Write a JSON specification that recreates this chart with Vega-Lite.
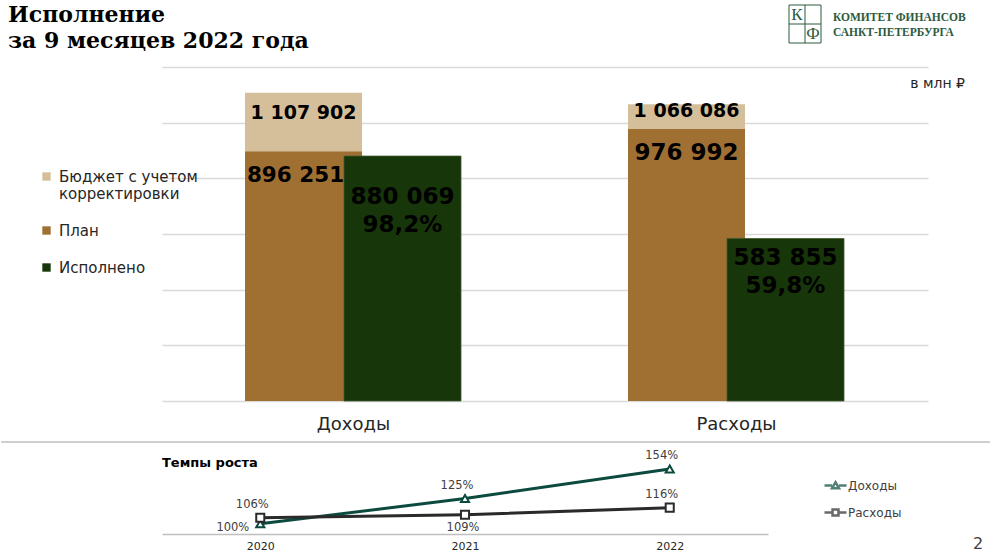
{
  "$schema": "https://vega.github.io/schema/vega-lite/v6.json",
  "padding": {"left": 0, "top": 4, "right": 0, "bottom": 0},
  "background": "white",
  "config": {
    "locale": {"number": {"decimal": ",", "thousands": " ", "grouping": [3], "currency": ["", " ₽"]}},
    "view": {"stroke": null},
    "font": "DejaVu Sans"
  },
  "datasets": {
    "bars": [
      {"cat": "Доходы", "series": "Бюджет с учетом корректировки", "value": 1107902},
      {"cat": "Доходы", "series": "План", "value": 896251},
      {"cat": "Доходы", "series": "Исполнено", "value": 880069, "pct": 0.982},
      {"cat": "Расходы", "series": "Бюджет с учетом корректировки", "value": 1066086},
      {"cat": "Расходы", "series": "План", "value": 976992},
      {"cat": "Расходы", "series": "Исполнено", "value": 583855, "pct": 0.598}
    ],
    "growth": [
      {"series": "Доходы", "year": "2020", "rate": 1.00},
      {"series": "Доходы", "year": "2021", "rate": 1.25},
      {"series": "Доходы", "year": "2022", "rate": 1.54},
      {"series": "Расходы", "year": "2020", "rate": 1.06},
      {"series": "Расходы", "year": "2021", "rate": 1.09},
      {"series": "Расходы", "year": "2022", "rate": 1.16}
    ],
    "one": [{"k": 1}]
  },
  "spacing": 8,
  "vconcat": [
    {
      "width": 766,
      "height": 334,
      "layer": [
        {
          "data": {"name": "bars"},
          "transform": [{"filter": "datum.series == 'Бюджет с учетом корректировки'"}],
          "mark": {"type": "bar", "width": 117, "xOffset": -50},
          "encoding": {
            "x": {"field": "cat", "type": "nominal", "sort": ["Доходы", "Расходы"], "scale": {"paddingInner": 0, "paddingOuter": 0},
              "axis": {"title": null, "labelAngle": 0, "labelFontSize": 18, "labelColor": "#262626", "labelFont": "DejaVu Sans", "ticks": false, "domain": false, "labelPadding": 14}},
            "y": {"field": "value", "type": "quantitative", "scale": {"domain": [0, 1200000]},
              "axis": {"title": null, "labels": false, "ticks": false, "domain": false, "grid": true, "gridColor": "#d9d9d9", "gridWidth": 1.5, "values": [0, 200000, 400000, 600000, 800000, 1000000, 1200000]}},
            "color": {"field": "series", "type": "nominal",
              "scale": {"domain": ["Бюджет с учетом корректировки", "План", "Исполнено"], "range": ["#d5bf9a", "#a07033", "#17360a"]},
              "legend": {"title": null, "orient": "none", "legendX": -123, "legendY": 102, "symbolType": "square", "symbolSize": 70, "symbolStrokeWidth": 0,
                "labelFontSize": 15, "labelFont": "DejaVu Sans", "labelColor": "#262626", "labelOffset": 5, "rowPadding": 21, "labelLimit": 300,
                "labelExpr": "datum.label == 'Бюджет с учетом корректировки' ? ['Бюджет с учетом', 'корректировки'] : datum.label"}}
          }
        },
        {
          "data": {"name": "bars"},
          "transform": [{"filter": "datum.series == 'Бюджет с учетом корректировки' && datum.cat == 'Доходы'"}],
          "mark": {"type": "text", "xOffset": -50, "dy": 20, "baseline": "middle", "fontSize": 19, "fontWeight": "bold", "font": "DejaVu Sans", "color": "#000000"},
          "encoding": {
            "x": {"field": "cat", "type": "nominal", "sort": ["Доходы", "Расходы"]},
            "y": {"field": "value", "type": "quantitative"},
            "text": {"field": "value", "type": "quantitative", "format": ",d"}
          }
        },
        {
          "data": {"name": "bars"},
          "transform": [{"filter": "datum.series == 'Бюджет с учетом корректировки' && datum.cat == 'Расходы'"}],
          "mark": {"type": "text", "xOffset": -50, "dy": 7, "baseline": "middle", "fontSize": 19, "fontWeight": "bold", "font": "DejaVu Sans", "color": "#000000"},
          "encoding": {
            "x": {"field": "cat", "type": "nominal", "sort": ["Доходы", "Расходы"]},
            "y": {"field": "value", "type": "quantitative"},
            "text": {"field": "value", "type": "quantitative", "format": ",d"}
          }
        },
        {
          "data": {"name": "bars"},
          "transform": [{"filter": "datum.series == 'План'"}],
          "mark": {"type": "bar", "width": 117, "xOffset": -50},
          "encoding": {
            "x": {"field": "cat", "type": "nominal", "sort": ["Доходы", "Расходы"]},
            "y": {"field": "value", "type": "quantitative"},
            "color": {"field": "series", "type": "nominal"}
          }
        },
        {
          "data": {"name": "bars"},
          "transform": [{"filter": "datum.series == 'План' && datum.cat == 'Доходы'"}],
          "mark": {"type": "text", "xOffset": -50, "dx": -8, "dy": 24, "baseline": "middle", "fontSize": 21.5, "fontWeight": "bold", "font": "DejaVu Sans", "color": "#000000"},
          "encoding": {
            "x": {"field": "cat", "type": "nominal", "sort": ["Доходы", "Расходы"]},
            "y": {"field": "value", "type": "quantitative"},
            "text": {"field": "value", "type": "quantitative", "format": ",d"}
          }
        },
        {
          "data": {"name": "bars"},
          "transform": [{"filter": "datum.series == 'План' && datum.cat == 'Расходы'"}],
          "mark": {"type": "text", "xOffset": -50, "dy": 24, "baseline": "middle", "fontSize": 23, "fontWeight": "bold", "font": "DejaVu Sans", "color": "#000000"},
          "encoding": {
            "x": {"field": "cat", "type": "nominal", "sort": ["Доходы", "Расходы"]},
            "y": {"field": "value", "type": "quantitative"},
            "text": {"field": "value", "type": "quantitative", "format": ",d"}
          }
        },
        {
          "data": {"name": "bars"},
          "transform": [{"filter": "datum.series == 'Исполнено'"}],
          "mark": {"type": "bar", "width": 117, "xOffset": 49, "stroke": "#3f5a30", "strokeWidth": 0.8},
          "encoding": {
            "x": {"field": "cat", "type": "nominal", "sort": ["Доходы", "Расходы"]},
            "y": {"field": "value", "type": "quantitative"},
            "color": {"field": "series", "type": "nominal"}
          }
        },
        {
          "data": {"name": "bars"},
          "transform": [{"filter": "datum.series == 'Исполнено' && datum.cat == 'Доходы'"}],
          "mark": {"type": "text", "xOffset": 49, "dy": 41, "baseline": "middle", "fontSize": 23, "fontWeight": "bold", "font": "DejaVu Sans", "color": "#000000"},
          "encoding": {
            "x": {"field": "cat", "type": "nominal", "sort": ["Доходы", "Расходы"]},
            "y": {"field": "value", "type": "quantitative"},
            "text": {"field": "value", "type": "quantitative", "format": ",d"}
          }
        },
        {
          "data": {"name": "bars"},
          "transform": [{"filter": "datum.series == 'Исполнено' && datum.cat == 'Доходы'"}],
          "mark": {"type": "text", "xOffset": 49, "dy": 69, "baseline": "middle", "fontSize": 23, "fontWeight": "bold", "font": "DejaVu Sans", "color": "#000000"},
          "encoding": {
            "x": {"field": "cat", "type": "nominal", "sort": ["Доходы", "Расходы"]},
            "y": {"field": "value", "type": "quantitative"},
            "text": {"field": "pct", "type": "quantitative", "format": ".1%"}
          }
        },
        {
          "data": {"name": "bars"},
          "transform": [{"filter": "datum.series == 'Исполнено' && datum.cat == 'Расходы'"}],
          "mark": {"type": "text", "xOffset": 49, "dy": 20, "baseline": "middle", "fontSize": 23, "fontWeight": "bold", "font": "DejaVu Sans", "color": "#000000"},
          "encoding": {
            "x": {"field": "cat", "type": "nominal", "sort": ["Доходы", "Расходы"]},
            "y": {"field": "value", "type": "quantitative"},
            "text": {"field": "value", "type": "quantitative", "format": ",d"}
          }
        },
        {
          "data": {"name": "bars"},
          "transform": [{"filter": "datum.series == 'Исполнено' && datum.cat == 'Расходы'"}],
          "mark": {"type": "text", "xOffset": 49, "dy": 48, "baseline": "middle", "fontSize": 23, "fontWeight": "bold", "font": "DejaVu Sans", "color": "#000000"},
          "encoding": {
            "x": {"field": "cat", "type": "nominal", "sort": ["Доходы", "Расходы"]},
            "y": {"field": "value", "type": "quantitative"},
            "text": {"field": "pct", "type": "quantitative", "format": ".1%"}
          }
        },
        {
          "data": {"name": "one"},
          "mark": {"type": "text", "text": ["Исполнение", "за 9 месяцев 2022 года"], "align": "left", "baseline": "alphabetic", "lineHeight": 26, "fontSize": 22, "fontWeight": "bold", "font": "DejaVu Serif", "color": "#000000"},
          "encoding": {"x": {"value": -154}, "y": {"value": -45}}
        },
        {
          "data": {"name": "one"},
          "mark": {"type": "rect", "fill": null, "fillOpacity": 0, "stroke": "#2d5a3d", "strokeWidth": 1},
          "encoding": {"x": {"value": 627}, "x2": {"value": 659}, "y": {"value": -62}, "y2": {"value": -24}}
        },
        {
          "data": {"name": "one"},
          "mark": {"type": "rule", "color": "#2d5a3d", "strokeWidth": 1},
          "encoding": {"x": {"value": 643}, "y": {"value": -62}, "y2": {"value": -24}}
        },
        {
          "data": {"name": "one"},
          "mark": {"type": "rule", "color": "#2d5a3d", "strokeWidth": 1},
          "encoding": {"x": {"value": 627}, "x2": {"value": 659}, "y": {"value": -43}}
        },
        {
          "data": {"name": "one"},
          "mark": {"type": "text", "text": "К", "align": "center", "baseline": "middle", "fontSize": 17, "font": "Liberation Serif", "color": "#2d5a3d"},
          "encoding": {"x": {"value": 635}, "y": {"value": -52}}
        },
        {
          "data": {"name": "one"},
          "mark": {"type": "text", "text": "Ф", "align": "center", "baseline": "middle", "fontSize": 17, "font": "Liberation Serif", "color": "#2d5a3d"},
          "encoding": {"x": {"value": 651}, "y": {"value": -33}}
        },
        {
          "data": {"name": "one"},
          "mark": {"type": "text", "text": ["КОМИТЕТ ФИНАНСОВ", "САНКТ-ПЕТЕРБУРГА"], "align": "left", "baseline": "middle", "lineHeight": 15, "fontSize": 11.5, "fontWeight": "bold", "font": "Liberation Serif", "color": "#2d5a3d"},
          "encoding": {"x": {"value": 671}, "y": {"value": -49}}
        },
        {
          "data": {"name": "one"},
          "mark": {"type": "text", "text": "в млн ₽", "align": "right", "baseline": "middle", "fontSize": 14, "font": "DejaVu Sans", "color": "#262626"},
          "encoding": {"x": {"value": 803}, "y": {"value": 17}}
        }
      ]
    },
    {
      "width": 606,
      "height": 71,
      "title": {"text": "Темпы роста", "anchor": "start", "frame": "group", "fontSize": 13, "fontWeight": "bold", "font": "DejaVu Sans", "color": "#000000", "offset": -6, "dy": 23},
      "layer": [
        {
          "data": {"name": "one"},
          "mark": {"type": "rule", "color": "#bfbfbf", "strokeWidth": 1.5},
          "encoding": {"x": {"value": -161}, "x2": {"value": 828}, "y": {"value": -21}}
        },
        {
          "data": {"name": "growth"},
          "mark": {"type": "line", "strokeWidth": 3},
          "encoding": {
            "x": {"field": "year", "type": "ordinal", "scale": {"type": "point", "padding": 0.48},
              "axis": {"title": null, "labelAngle": 0, "labelFontSize": 11, "labelColor": "#262626", "ticks": false, "domainColor": "#bfbfbf", "domainWidth": 1.5, "labelPadding": 6, "grid": false}},
            "y": {"field": "rate", "type": "quantitative", "scale": {"domain": [0.9, 1.6]}, "axis": null},
            "stroke": {"field": "series", "type": "nominal", "scale": {"domain": ["Доходы", "Расходы"], "range": ["#0b4a3e", "#2a2a2a"]}, "legend": null}
          }
        },
        {
          "data": {"name": "growth"},
          "mark": {"type": "point", "filled": false, "fill": "white", "strokeWidth": 2, "size": 65, "opacity": 1},
          "encoding": {
            "x": {"field": "year", "type": "ordinal"},
            "y": {"field": "rate", "type": "quantitative", "axis": null},
            "stroke": {"field": "series", "type": "nominal", "legend": null},
            "shape": {"field": "series", "type": "nominal", "scale": {"domain": ["Доходы", "Расходы"], "range": ["triangle-up", "square"]}, "legend": null}
          }
        },
        {
          "data": {"name": "growth"},
          "transform": [{"filter": "(datum.series == 'Доходы' && datum.year != '2020') || (datum.series == 'Расходы' && datum.year != '2021')"}],
          "mark": {"type": "text", "dx": -8, "dy": -13, "baseline": "middle", "fontSize": 11.5, "color": "#404040"},
          "encoding": {
            "x": {"field": "year", "type": "ordinal"},
            "y": {"field": "rate", "type": "quantitative", "axis": null},
            "text": {"field": "rate", "type": "quantitative", "format": ".0%"}
          }
        },
        {
          "data": {"name": "growth"},
          "transform": [{"filter": "datum.series == 'Доходы' && datum.year == '2020'"}],
          "mark": {"type": "text", "align": "right", "dx": -11, "dy": 4, "baseline": "middle", "fontSize": 11.5, "color": "#404040"},
          "encoding": {
            "x": {"field": "year", "type": "ordinal"},
            "y": {"field": "rate", "type": "quantitative", "axis": null},
            "text": {"field": "rate", "type": "quantitative", "format": ".0%"}
          }
        },
        {
          "data": {"name": "growth"},
          "transform": [{"filter": "datum.series == 'Расходы' && datum.year == '2021'"}],
          "mark": {"type": "text", "dx": -2, "dy": 13, "baseline": "middle", "fontSize": 11.5, "color": "#404040"},
          "encoding": {
            "x": {"field": "year", "type": "ordinal"},
            "y": {"field": "rate", "type": "quantitative", "axis": null},
            "text": {"field": "rate", "type": "quantitative", "format": ".0%"}
          }
        },
        {
          "data": {"name": "growth"},
          "transform": [{"filter": "false"}],
          "mark": {"type": "point", "filled": false, "strokeWidth": 2.5},
          "encoding": {
            "color": {"field": "series", "type": "nominal", "scale": {"domain": ["Доходы", "Расходы"], "range": ["#0b4a3e", "#2a2a2a"]},
              "legend": {"title": null, "orient": "none", "legendX": 661, "legendY": 10, "symbolSize": 484, "symbolStrokeWidth": 2.5, "labelFontSize": 12, "labelColor": "#404040", "labelOffset": 0, "rowPadding": 6}},
            "shape": {"field": "series", "type": "nominal",
              "scale": {"domain": ["Доходы", "Расходы"], "range": ["M-1,0H-0.32M0.32,0H1M0,-0.3L0.32,0.26L-0.32,0.26Z", "M-1,0H-0.27M0.27,0H1M-0.27,-0.27H0.27V0.27H-0.27Z"]},
              "legend": {"title": null, "orient": "none", "legendX": 661, "legendY": 10, "symbolSize": 484, "symbolStrokeWidth": 2.5, "labelFontSize": 12, "labelColor": "#404040", "labelOffset": 0, "rowPadding": 6}}
          }
        },
        {
          "data": {"name": "one"},
          "mark": {"type": "text", "text": "2", "align": "center", "baseline": "middle", "fontSize": 16, "color": "#404040"},
          "encoding": {"x": {"value": 816}, "y": {"value": 81}}
        }
      ],
      "resolve": {"scale": {"shape": "independent", "color": "independent"}}
    }
  ]
}
